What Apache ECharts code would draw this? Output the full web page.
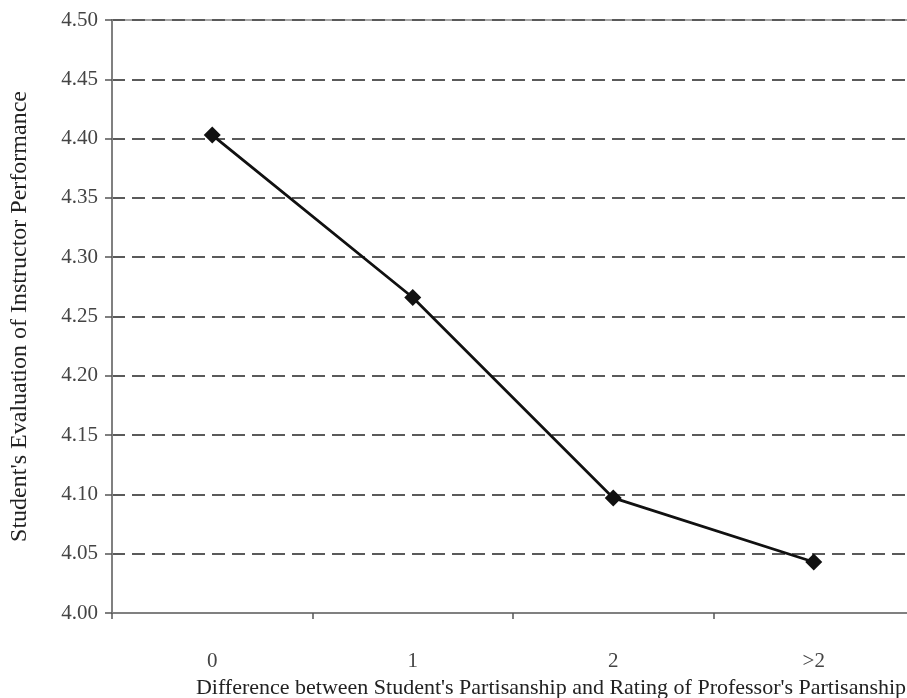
<!DOCTYPE html>
<html>
<head>
<meta charset="utf-8">
<script src="https://cdn.jsdelivr.net/npm/echarts@6/dist/echarts.min.js"></script>
<style>
	html, body { margin: 0; padding: 0; background: #fff; }
	#chart { width: 907px; height: 698px; }
</style>
</head>
<body>
<div id="chart"></div>
<script>
const categories = ['0', '1', '2', '>2']
const evaluation = [4.403, 4.266, 4.097, 4.043]
const yMin = 4.0
const yMax = 4.5
const yStep = 0.05

const font = '"Liberation Serif", "Times New Roman", serif'

const chart = echarts.init(document.getElementById('chart'))

chart.setOption({
	animation: false,
	backgroundColor: '#fff',
	grid: {
		left: 112,
		top: 20,
		right: -7,
		bottom: 85,
		outerBoundsMode: 'none',
		containLabel: false,
		show: true,
		borderColor: '#8a8a8a',
		borderWidth: 1.5
	},
	xAxis: {
		type: 'category',
		data: categories,
		boundaryGap: true,
		name: "Difference between Student's Partisanship and Rating of Professor's Partisanship",
		nameLocation: 'middle',
		nameGap: 64,
		nameTextStyle: { fontFamily: font, fontSize: 22, color: '#222', padding: [0, 0, 0, 76] },
		axisLine: { lineStyle: { color: '#808080', width: 2 } },
		axisTick: { show: true, length: 6, inside: false, lineStyle: { color: '#555', width: 1.5 } },
		axisLabel: { margin: 38, fontFamily: font, fontSize: 21, color: '#444' },
		splitLine: { show: false }
	},
	yAxis: {
		type: 'value',
		min: yMin,
		max: yMax,
		interval: yStep,
		name: "Student's Evaluation of Instructor Performance",
		nameLocation: 'middle',
		nameGap: 80,
		nameTextStyle: { fontFamily: font, fontSize: 24, color: '#222' },
		axisLine: { show: true, lineStyle: { color: '#808080', width: 2 } },
		axisTick: { show: true, length: 7, lineStyle: { color: '#555', width: 1.5 } },
		axisLabel: {
			margin: 14,
			fontFamily: font,
			fontSize: 21,
			color: '#444',
			formatter: v => v.toFixed(2)
		},
		splitLine: {
			show: true,
			lineStyle: { color: '#5a5a5a', width: 2.2, type: [13, 7] }
		}
	},
	series: [{
		type: 'line',
		data: evaluation,
		symbol: 'diamond',
		symbolSize: 17,
		lineStyle: { color: '#111', width: 2.8 },
		itemStyle: { color: '#111' }
	}]
})
</script>
</body>
</html>
